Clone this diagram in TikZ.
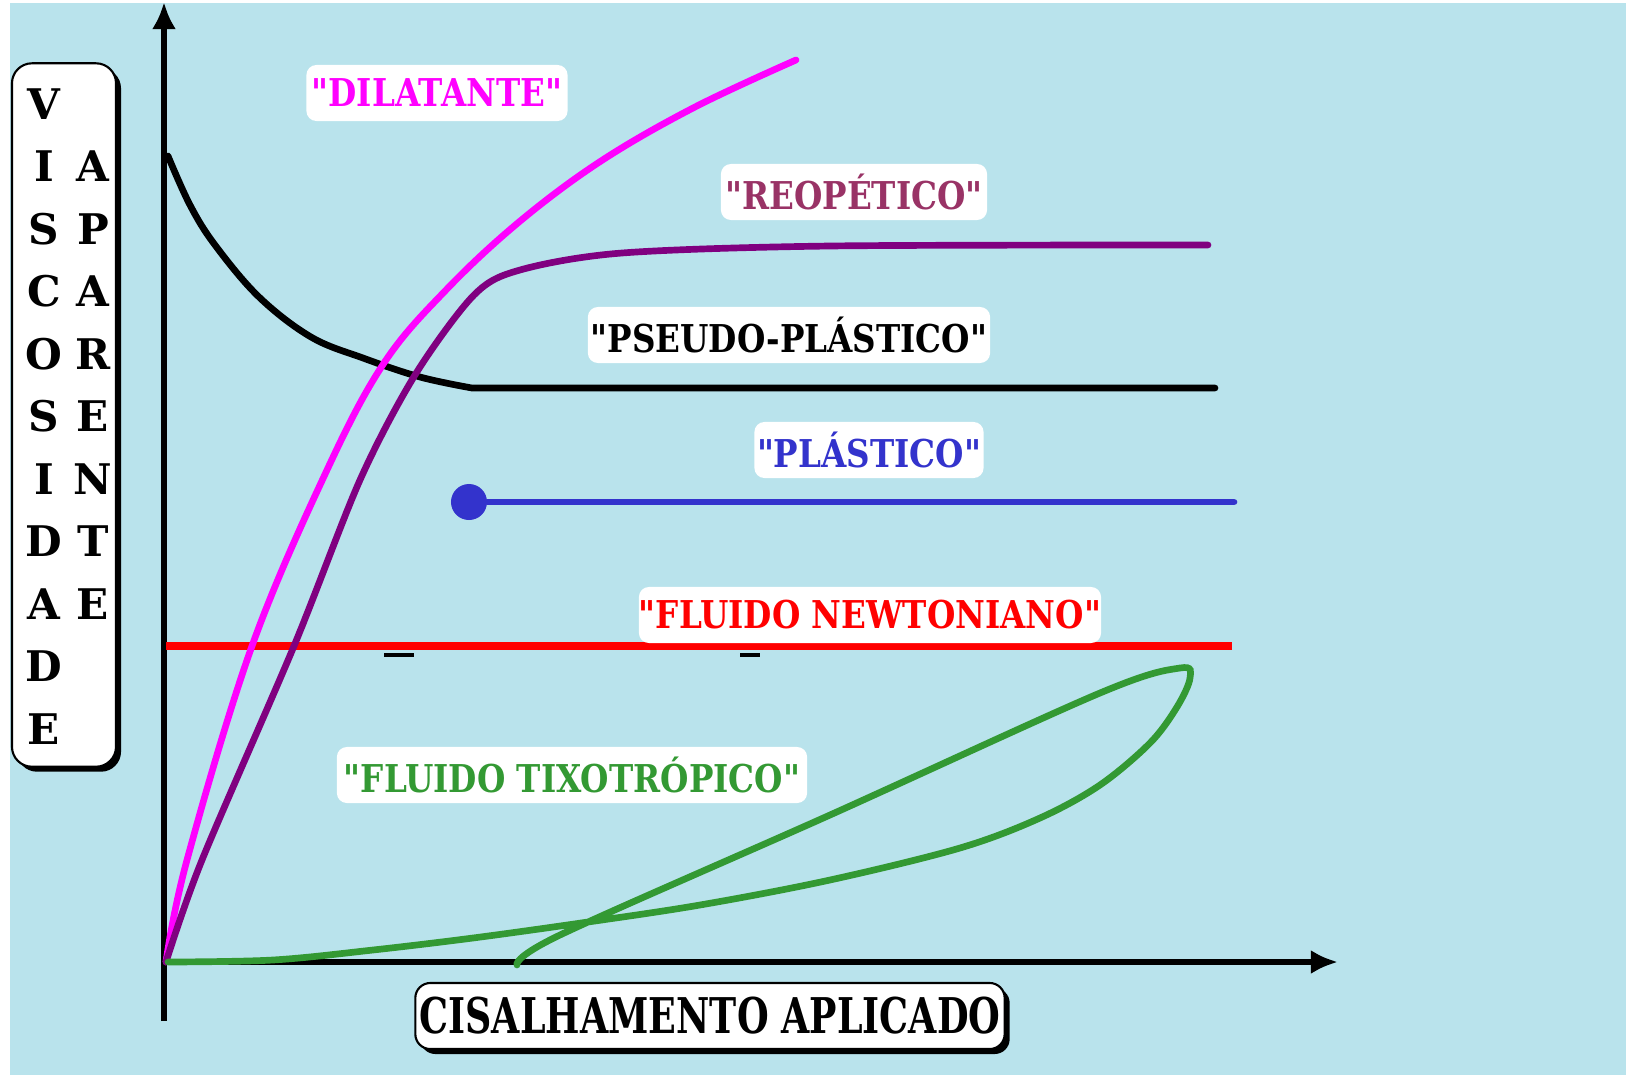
\documentclass[tikz,border=0pt]{standalone}
\usepackage{fontspec}
\usepackage{xcolor}
\usetikzlibrary{arrows.meta,shadows}
\newfontfamily\tagfont[FakeStretch=0.85]{DejaVu Serif}
\newfontfamily\axisfont[FakeStretch=0.74]{DejaVu Serif}
\newfontfamily\letterfont{DejaVu Serif}
\definecolor{agua}{HTML}{B9E3EC}
\definecolor{dilat}{HTML}{FF00FF}
\definecolor{reopet}{HTML}{800080}
\definecolor{reotxt}{HTML}{993366}
\definecolor{plastico}{HTML}{3333CC}
\definecolor{tixo}{HTML}{339933}
\tikzset{>=latex}
\tikzset{
	tag/.style={fill=white, rounded corners=0.1cm, inner sep=0pt, minimum height=0.56cm,
			font=\tagfont\bfseries\fontsize{10.9}{13}\selectfont},
	axisbox/.style={draw=black, line width=0.6pt, fill=white, rounded corners=0.2cm,
			drop shadow={shadow xshift=0.05cm, shadow yshift=-0.05cm, opacity=1, fill=black}},
	letra/.style={inner sep=0pt, font=\letterfont\bfseries\fontsize{12}{14}\selectfont},
	curva/.style={line width=1.9pt, line cap=round},
	eixo/.style={line width=1.8pt, -{Latex[length=0.27cm,width=0.24cm]}}
}

\begin{document}
\begin{tikzpicture}[x=0.01cm, y=-0.01cm]
		\useasboundingbox (0,0) rectangle (1626,1075);
		\fill[white] (0,0) rectangle (1626,1075);
		\fill[agua] (10,3) rectangle (1626,1075);

		% caixa do eixo vertical
		\node[axisbox, minimum width=1.04cm, minimum height=7.03cm] (viscbox) at (64,415) {};
		\foreach \ch [count=\i] in {V,I,S,C,O,S,I,D,A,D,E}
			\node[letra] at (44,{104+62.5*(\i-1)}) {\ch};
		\foreach \ch [count=\i] in {A,P,A,R,E,N,T,E}
			\node[letra] at (93,{166.5+62.5*(\i-1)}) {\ch};

		% eixos
		\draw[eixo] (164,1021) -- (164,2);
		\draw[eixo] (162,962) -- (1338,962);

		% curvas
		\draw[red, line width=2.2pt] (166,646) -- (1232,646);
		\draw[black, line width=1pt] (384,655) -- (414,655);
		\draw[black, line width=1pt] (740,655) -- (760,655);
		\node[circle, fill=plastico, minimum size=0.36cm, inner sep=0pt] (ponto) at (469,502) {};
		\draw[plastico, curva] (ponto) -- (1234,502);
		\draw[black, curva] plot[smooth, tension=0.6] coordinates {(168,156) (190,205) (215,245) (259,297) (311,337) (363,358) (420,377) (472,388)} -- (1215,388);
		\draw[dilat, curva] plot[smooth, tension=0.6] coordinates {(166,962) (187,860) (252,646) (327,470) (384,363) (446,290) (519,222) (601,161) (695,107) (796,60)};
		\draw[reopet, curva] plot[smooth, tension=0.5] coordinates {(166,962) (202,860) (294,646) (360,480) (415,375) (474,295) (520,270) (622,253) (830,246) (1208,245)};
		\draw[tixo, curva] plot[smooth, tension=0.55] coordinates {(168,962) (273,960) (373,950) (473,938) (581,923) (700,905) (830,880) (960,848) (1040,818) (1100,785) (1150,743) (1177,707) (1190,678) (1180,668) (1100,693) (830,815) (560,935) (517,965)};

		% rotulos
		\node[tag, text=dilat, minimum width=2.61cm] (dilatante) at (437,93) {"DILATANTE"};
		\node[tag, text=reotxt, minimum width=2.66cm] (reopetico) at (854,192) {"REOPÉTICO"};
		\node[tag, text=black, minimum width=4.02cm] (pseudo) at (789,335) {"PSEUDO-PLÁSTICO"};
		\node[tag, text=plastico, minimum width=2.29cm] (plast) at (869,450) {"PLÁSTICO"};
		\node[tag, text=red, minimum width=4.59cm] (newton) at (870,615) {"FLUIDO NEWTONIANO"};
		\node[tag, text=tixo, minimum width=4.70cm] (tixotrop) at (572,775) {"FLUIDO TIXOTRÓPICO"};

		% caixa do eixo horizontal
		\node[axisbox, minimum width=5.89cm, minimum height=0.66cm, rounded corners=0.15cm, inner sep=0.04cm,
			font=\axisfont\bfseries\fontsize{14}{16}\selectfont] (cisalh) at (710,1016) {CISALHAMENTO APLICADO};
	\end{tikzpicture}
\end{document}
